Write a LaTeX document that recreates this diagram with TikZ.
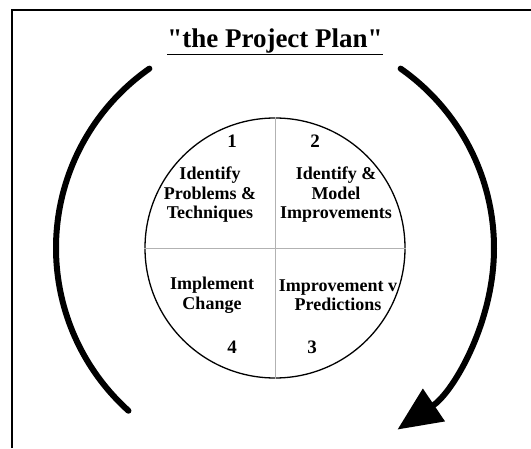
\documentclass[tikz,border=0pt]{standalone}
\usepackage{fontspec}
\setmainfont{Liberation Serif}
\usetikzlibrary{arrows.meta,positioning}

\tikzset{
  quad/.style={align=center,font=\fontsize{18}{19.5}\selectfont\bfseries,inner sep=0pt},
  num/.style={font=\fontsize{19}{21}\selectfont\bfseries,inner sep=0pt},
  cycle/.style={line width=6pt,line cap=round},
  split/.style={gray!60,line width=0.5pt}
}

\begin{document}
\begin{tikzpicture}[x=1pt,y=1pt]
  \useasboundingbox (0,0) rectangle (531,448);
  \fill[white] (0,0) rectangle (531,448);
  % frame
  \draw[line width=2pt] (12,0) -- (12,438) -- (531,438);

  \node (title) at (275,406) {\fontsize{27}{29}\selectfont\bfseries\underline{\textquotedbl the Project Plan\textquotedbl}};

  \node[draw,circle,line width=1.3pt,minimum size=260pt,inner sep=0pt] (plan) at (275,200) {};
  \draw[split] (plan.north) -- (plan.south);
  \draw[split] (plan.west) -- (plan.east);

  \node[quad] (q1) at (210,253) {Identify\\Problems \&\\Techniques};
  \node[quad] (q2) at (336,253) {Identify \&\\Model\\Improvements};
  \node[quad] (q3) at (338,153) {Improvement v\\Predictions};
  \node[quad] (q4) at (212,153) {Implement\\Change};

  \node[num] (n1) at (232,307) {1};
  \node[num] (n2) at (315,307) {2};
  \node[num] (n3) at (312,101) {3};
  \node[num] (n4) at (232,101) {4};

  % the turning arrows round the circle
  \draw[cycle] ([shift={(125:219)}]plan.center) arc[start angle=125,end angle=228,radius=219];
  \draw[cycle,-{Triangle[length=44pt,width=38pt]}] ([shift={(55:219)}]plan.center)
    arc[start angle=55,end angle=-56,radius=219];
\end{tikzpicture}
\end{document}
